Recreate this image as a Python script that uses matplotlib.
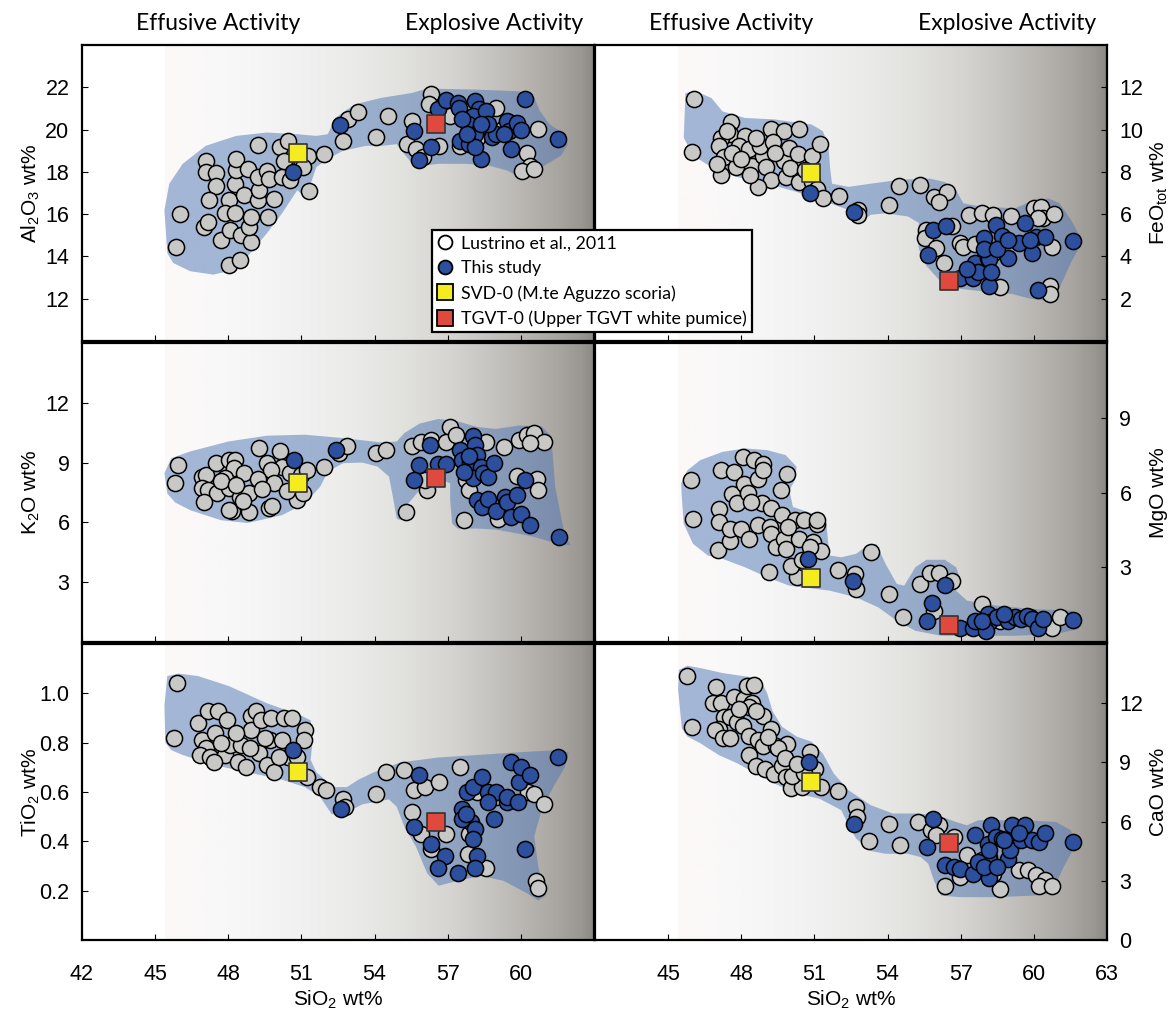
import numpy as np
import matplotlib.pyplot as plt
from matplotlib.colors import LinearSegmentedColormap
from matplotlib.lines import Line2D
from matplotlib.patches import Polygon

plt.rcParams['font.family'] = ['Liberation Sans', 'DejaVu Sans']
plt.rcParams['mathtext.fontset'] = 'custom'
plt.rcParams['mathtext.rm'] = 'Liberation Sans'
plt.rcParams['mathtext.it'] = 'Liberation Sans:italic'

# -------------------------------
# Whole-rock data: (SiO2, oxide) wt%
# -------------------------------
lus_al2o3 = [(45.86, 14.44), (46.02, 16.03), (47.07, 18.53), (47.07, 17.98), (47.51, 17.95), (47.51, 17.31),
             (47.19, 16.69), (48.01, 16.66), (46.99, 15.41), (47.15, 15.64), (47.70, 14.78), (48.07, 15.25),
             (48.04, 13.61), (48.48, 13.81), (48.51, 15.02), (48.95, 14.70), (48.87, 15.41), (48.95, 15.88),
             (47.85, 16.06), (48.29, 16.06), (48.26, 17.41), (48.32, 18.09), (48.32, 18.61), (48.79, 18.14),
             (48.64, 16.89), (49.20, 16.66), (49.26, 17.13), (49.20, 17.75), (49.20, 19.28), (49.58, 18.06),
             (49.66, 17.67), (49.62, 15.88), (49.86, 16.73), (50.13, 19.16), (50.44, 19.47), (50.20, 17.75),
             (50.55, 17.61), (50.28, 18.50), (50.99, 18.30), (51.27, 18.77), (51.07, 18.22), (51.30, 17.09),
             (51.93, 18.84), (52.71, 19.47), (52.90, 20.48), (53.34, 20.84), (54.04, 19.66), (54.56, 20.63),
             (55.53, 20.41), (55.34, 19.31), (55.69, 19.08), (56.00, 18.69), (56.32, 21.66), (56.24, 21.22),
             (56.63, 19.23), (57.10, 20.64), (60.24, 18.88), (60.39, 18.30), (60.05, 18.06), (60.55, 18.14),
             (60.71, 20.05), (59.26, 20.05), (59.61, 20.33), (57.80, 20.90), (58.40, 20.50), (59.00, 21.00),
             (58.20, 19.60), (57.50, 19.20)]
own_al2o3 = [(50.64, 17.98), (52.60, 20.20), (55.61, 19.91), (55.82, 18.58), (56.32, 19.16), (56.60, 20.98),
             (56.91, 21.42), (57.41, 21.27), (57.45, 21.03), (58.12, 21.34), (58.28, 20.95), (58.04, 20.64),
             (58.59, 20.88), (57.85, 20.25), (57.57, 20.48), (58.12, 19.78), (57.49, 19.47), (57.88, 19.31),
             (58.35, 18.61), (58.12, 19.16), (58.82, 19.63), (58.98, 19.78), (59.45, 20.41), (59.53, 19.94),
             (59.84, 20.33), (60.00, 19.98), (59.61, 19.08), (60.16, 21.45), (61.52, 19.55), (58.67, 20.25),
             (58.35, 20.25), (57.81, 19.78), (59.29, 19.78)]
env_al2o3 = [(45.50, 14.16), (45.38, 16.19), (45.58, 17.44), (46.13, 18.38), (47.07, 19.23), (48.32, 19.70),
             (49.58, 19.86), (50.83, 19.78), (51.61, 19.70), (52.08, 19.78), (52.40, 20.56), (53.18, 21.19),
             (54.28, 21.50), (55.53, 21.73), (56.16, 21.94), (58.20, 21.89), (59.92, 21.81), (60.55, 21.50),
             (60.78, 20.88), (61.18, 20.25), (61.80, 19.78), (61.93, 19.31), (61.65, 18.77), (60.86, 18.22),
             (60.71, 17.75), (60.08, 17.67), (59.45, 18.06), (58.67, 18.30), (57.73, 18.38), (56.63, 18.38),
             (56.00, 18.30), (55.61, 18.30), (55.22, 18.84), (54.91, 19.31), (54.28, 19.23), (53.65, 19.23),
             (52.71, 19.00), (52.08, 18.61), (51.61, 18.22), (51.38, 17.44), (51.46, 16.81), (51.14, 16.81),
             (50.83, 17.13), (50.20, 16.03), (49.58, 15.09), (48.79, 14.00), (48.01, 13.30), (47.38, 13.14),
             (46.44, 13.30), (45.74, 13.69)]

lus_feo = [(46.06, 11.46), (45.97, 8.92), (47.58, 10.37), (47.54, 9.78), (47.16, 9.62), (48.15, 9.70),
           (47.08, 9.23), (47.92, 9.23), (47.31, 8.69), (47.77, 8.22), (47.16, 7.83), (47.01, 8.38),
           (48.30, 9.08), (48.45, 8.30), (48.91, 8.77), (48.75, 9.23), (49.03, 8.22), (49.21, 10.01),
           (49.74, 9.93), (49.29, 9.39), (49.74, 8.53), (50.35, 10.01), (49.97, 9.15), (50.32, 8.84),
           (50.88, 8.77), (51.22, 9.31), (49.21, 7.63), (48.68, 7.29), (48.37, 7.83), (49.82, 7.76),
           (50.35, 7.52), (50.88, 7.52), (51.11, 7.21), (51.34, 6.74), (52.02, 6.87), (52.78, 6.20),
           (52.78, 5.95), (54.07, 6.43), (54.45, 7.33), (55.33, 7.37), (55.90, 6.82), (56.43, 7.05),
           (56.12, 6.59), (57.34, 5.97), (57.87, 6.04), (58.33, 5.97), (59.06, 5.89), (60.00, 6.28),
           (60.30, 6.35), (60.38, 5.81), (60.84, 6.01), (60.15, 5.81), (56.66, 5.42), (55.59, 5.27),
           (55.52, 4.88), (55.97, 4.41), (56.32, 3.71), (56.96, 4.64), (57.11, 4.46), (58.63, 2.54),
           (60.76, 4.46), (60.68, 2.62), (60.68, 2.23), (57.57, 4.57), (58.33, 4.18), (47.60, 8.90),
           (48.00, 8.60), (48.60, 9.60), (49.40, 8.90), (50.00, 8.20), (50.60, 8.10), (47.40, 9.95)]
own_feo = [(50.81, 7.01), (52.63, 6.12), (55.87, 5.27), (56.38, 5.45), (55.67, 4.07), (56.96, 2.96),
           (57.49, 2.96), (57.57, 3.71), (57.95, 4.88), (58.10, 3.94), (58.18, 2.62), (58.18, 3.87),
           (58.45, 5.50), (58.71, 4.95), (58.94, 3.94), (59.39, 4.64), (59.62, 5.58), (59.92, 4.18),
           (60.08, 4.92), (60.46, 4.92), (60.18, 2.39), (61.60, 4.72), (57.95, 4.33), (58.48, 4.33),
           (57.72, 3.24), (58.25, 3.24), (58.94, 4.80), (59.85, 4.80), (57.26, 3.40)]
env_feo = [(45.71, 11.72), (46.09, 11.83), (46.78, 11.49), (47.23, 10.86), (48.15, 10.55), (49.36, 10.48),
           (50.88, 10.24), (51.34, 9.93), (51.57, 9.31), (51.64, 8.22), (51.72, 7.44), (52.40, 7.29),
           (53.31, 7.44), (54.53, 7.63), (55.74, 7.68), (56.35, 7.52), (56.81, 7.13), (57.11, 6.51),
           (57.87, 6.35), (59.24, 6.28), (60.00, 6.67), (60.61, 6.74), (61.06, 6.51), (61.52, 5.73),
           (61.90, 4.95), (61.82, 4.33), (61.52, 3.71), (61.22, 2.93), (60.91, 2.16), (60.46, 1.92),
           (59.85, 2.00), (59.09, 2.23), (58.18, 2.31), (56.96, 2.47), (56.20, 2.78), (55.59, 3.56),
           (55.29, 4.33), (55.21, 4.95), (55.29, 5.58), (54.83, 5.89), (53.92, 6.04), (53.31, 5.97),
           (53.01, 5.73), (52.71, 5.89), (52.40, 6.20), (51.64, 6.51), (50.27, 7.05), (49.06, 7.44),
           (47.84, 7.75), (46.78, 8.22), (46.02, 8.77), (45.64, 9.62)]

lus_k2o = [(45.94, 8.89), (45.82, 7.96), (46.91, 8.30), (47.07, 8.38), (47.51, 9.00), (48.01, 9.14),
           (48.29, 9.14), (48.24, 8.72), (47.85, 8.21), (48.64, 8.46), (49.26, 9.73), (49.58, 8.97),
           (50.13, 9.56), (50.20, 8.80), (49.76, 8.63), (49.89, 7.96), (50.52, 8.46), (50.99, 8.38),
           (51.22, 8.63), (51.93, 8.80), (46.91, 7.71), (47.15, 7.62), (47.54, 7.45), (48.01, 7.71),
           (48.48, 7.29), (48.87, 7.45), (48.87, 6.53), (48.17, 6.58), (48.01, 6.61), (46.99, 7.03),
           (49.66, 6.70), (49.81, 6.81), (50.83, 7.12), (51.07, 7.45), (52.55, 9.47), (52.87, 9.81),
           (54.04, 9.47), (54.47, 9.61), (55.53, 9.85), (55.92, 10.01), (56.32, 10.15), (57.10, 10.79),
           (56.94, 10.01), (57.34, 10.40), (58.59, 10.01), (59.29, 9.76), (59.92, 10.11), (60.27, 10.40),
           (60.55, 10.48), (60.94, 10.05), (60.39, 9.98), (59.84, 8.33), (60.67, 8.16), (60.71, 7.62),
           (57.65, 6.11), (59.06, 6.19), (55.30, 6.53), (56.16, 7.62), (56.08, 8.13), (57.73, 8.13),
           (57.88, 7.62), (58.35, 8.46), (47.70, 8.10), (48.30, 7.90), (49.20, 8.20), (49.40, 7.70),
           (48.60, 7.05), (50.40, 7.60)]
own_k2o = [(50.71, 9.14), (52.43, 9.61), (55.82, 8.89), (56.29, 9.86), (55.61, 8.13), (56.60, 8.94),
           (56.91, 8.94), (57.49, 9.64), (57.57, 9.14), (58.04, 10.35), (58.12, 9.90), (58.20, 9.39),
           (57.92, 9.05), (58.35, 8.80), (58.04, 8.21), (58.43, 8.46), (58.67, 8.30), (58.90, 8.97),
           (58.20, 7.12), (58.39, 6.78), (58.67, 7.17), (58.98, 6.58), (59.37, 7.29), (59.45, 7.03),
           (59.84, 7.37), (59.61, 6.28), (60.00, 6.44), (60.39, 5.86), (60.16, 8.13), (61.57, 5.27),
           (57.65, 8.55), (57.88, 9.31)]
env_k2o = [(45.50, 7.45), (45.38, 8.46), (45.66, 9.22), (46.44, 9.56), (48.01, 10.06), (49.58, 10.35),
           (51.14, 10.40), (52.71, 10.23), (54.28, 10.01), (54.91, 10.06), (55.22, 10.48), (55.85, 10.96),
           (56.63, 11.19), (57.41, 11.07), (58.20, 10.79), (58.98, 10.69), (59.92, 10.86), (60.86, 10.82),
           (61.25, 10.32), (61.30, 9.47), (61.41, 7.79), (61.65, 6.28), (61.80, 5.43), (62.04, 4.85),
           (61.49, 4.93), (60.55, 5.27), (59.92, 5.43), (58.98, 5.64), (58.20, 5.69), (57.41, 5.69),
           (57.18, 5.94), (57.10, 7.12), (57.10, 7.96), (56.79, 8.13), (55.85, 7.62), (55.38, 6.95),
           (55.06, 6.11), (54.91, 6.19), (54.75, 7.29), (54.59, 8.30), (54.12, 8.80), (53.50, 9.00),
           (52.71, 8.97), (52.08, 8.55), (51.77, 7.79), (51.14, 6.95), (50.20, 6.36), (48.79, 5.97),
           (47.70, 6.11), (46.44, 6.61), (45.82, 7.00)]

lus_mgo = [(45.94, 6.49), (46.02, 4.95), (47.08, 5.35), (47.08, 4.81), (47.05, 3.71), (47.16, 6.89),
           (47.54, 4.05), (47.54, 4.54), (47.61, 5.95), (47.69, 6.83), (47.84, 5.58), (47.99, 4.54),
           (48.07, 7.43), (48.12, 6.36), (48.27, 5.98), (48.33, 4.14), (48.53, 7.32), (48.68, 6.56),
           (48.91, 7.16), (48.68, 4.68), (48.83, 5.59), (49.16, 4.61), (49.21, 5.39), (49.21, 4.32),
           (49.13, 2.80), (49.44, 3.81), (49.67, 5.11), (49.64, 6.09), (49.89, 6.76), (49.74, 4.14),
           (49.82, 3.74), (50.20, 4.88), (50.27, 2.60), (50.05, 3.07), (50.35, 4.14), (50.58, 4.88),
           (50.93, 4.01), (51.11, 4.74), (51.26, 3.67), (51.11, 4.88), (51.95, 2.87), (52.67, 2.73),
           (52.71, 2.13), (53.34, 3.60), (54.04, 1.93), (54.65, 1.01), (55.33, 2.33), (55.74, 2.76),
           (56.12, 2.76), (56.66, 2.46), (55.90, 1.26), (57.87, 1.52), (58.63, 0.85), (59.85, 0.99),
           (60.76, 0.58), (61.06, 0.99), (57.57, 0.79), (48.90, 6.90), (48.40, 5.60), (49.90, 4.60),
           (50.50, 3.30), (50.80, 3.80)]
own_mgo = [(50.73, 3.34), (52.60, 2.44), (55.82, 1.55), (56.35, 2.29), (55.62, 0.85), (56.96, 0.56),
           (57.49, 0.58), (57.57, 0.85), (58.10, 1.12), (58.18, 0.79), (58.48, 0.99), (58.94, 0.85),
           (59.24, 0.99), (59.47, 0.92), (59.70, 1.04), (59.92, 0.92), (60.15, 0.56), (60.38, 0.92),
           (61.60, 0.88), (58.02, 0.45), (57.87, 0.85), (58.78, 1.12)]
env_mgo = [(45.56, 5.82), (45.53, 6.36), (45.79, 6.89), (46.32, 7.30), (47.23, 7.63), (48.15, 7.77),
           (49.06, 7.70), (49.82, 7.50), (50.27, 7.03), (50.20, 6.49), (49.97, 6.09), (50.12, 5.42),
           (50.88, 5.17), (51.49, 4.74), (51.57, 3.94), (51.64, 3.47), (52.10, 3.40), (52.71, 3.54),
           (53.16, 3.87), (53.54, 3.94), (53.92, 3.13), (54.38, 2.33), (54.68, 2.26), (55.14, 3.00),
           (55.59, 3.30), (56.35, 3.30), (56.81, 3.00), (56.96, 2.60), (56.81, 2.06), (57.26, 1.66),
           (58.48, 1.46), (60.00, 1.32), (61.52, 1.26), (61.98, 0.92), (61.82, 0.52), (60.91, 0.32),
           (59.24, 0.25), (57.72, 0.25), (56.20, 0.25), (55.14, 0.45), (54.38, 0.85), (53.62, 1.39),
           (52.71, 1.79), (51.64, 2.06), (50.58, 2.19), (49.97, 2.26), (49.06, 2.60), (48.15, 3.00),
           (47.23, 3.34), (46.63, 3.47), (46.02, 3.94), (45.64, 4.74)]

lus_tio2 = [(45.89, 1.04), (45.78, 0.82), (46.76, 0.88), (47.15, 0.93), (47.57, 0.93), (47.93, 0.89),
            (46.91, 0.81), (47.07, 0.78), (46.83, 0.75), (47.23, 0.74), (47.46, 0.84), (47.85, 0.75),
            (48.09, 0.79), (48.51, 0.79), (48.40, 0.72), (48.71, 0.70), (48.95, 0.91), (49.14, 0.93),
            (48.95, 0.85), (49.34, 0.89), (49.26, 0.76), (49.58, 0.71), (49.76, 0.90), (49.73, 0.81),
            (49.86, 0.68), (50.28, 0.90), (50.60, 0.90), (50.20, 0.81), (50.44, 0.74), (50.80, 0.74),
            (51.14, 0.85), (51.11, 0.81), (51.22, 0.66), (51.77, 0.62), (52.00, 0.61), (52.71, 0.57),
            (52.79, 0.54), (54.04, 0.59), (54.47, 0.68), (55.19, 0.69), (55.61, 0.61), (56.08, 0.62),
            (56.63, 0.64), (55.53, 0.52), (55.92, 0.43), (56.32, 0.37), (56.94, 0.43), (57.49, 0.70),
            (57.85, 0.35), (58.59, 0.29), (60.31, 0.60), (60.55, 0.59), (60.94, 0.55), (60.63, 0.24),
            (60.71, 0.21), (58.20, 0.60), (57.88, 0.43), (58.98, 0.58), (47.70, 0.80), (48.30, 0.84),
            (48.90, 0.78), (49.50, 0.82), (50.10, 0.74), (47.40, 0.72)]
own_tio2 = [(50.67, 0.77), (52.63, 0.53), (55.82, 0.67), (55.61, 0.46), (56.32, 0.39), (56.87, 0.34),
            (56.60, 0.29), (57.41, 0.27), (57.57, 0.53), (57.81, 0.60), (58.04, 0.62), (57.96, 0.48),
            (58.12, 0.45), (58.39, 0.66), (58.20, 0.34), (58.12, 0.29), (58.67, 0.60), (58.90, 0.49),
            (58.98, 0.60), (58.67, 0.56), (59.45, 0.56), (59.45, 0.58), (59.61, 0.72), (59.92, 0.64),
            (60.00, 0.70), (60.39, 0.67), (59.89, 0.56), (60.16, 0.37), (61.52, 0.74), (57.57, 0.49),
            (58.04, 0.41), (57.73, 0.51)]
env_tio2 = [(45.42, 0.80), (45.38, 0.95), (45.50, 1.07), (45.97, 1.08), (46.76, 1.07), (48.01, 1.03),
            (49.58, 0.96), (50.99, 0.91), (51.38, 0.89), (51.46, 0.81), (51.38, 0.73), (51.61, 0.68),
            (52.08, 0.64), (52.40, 0.62), (52.87, 0.62), (53.34, 0.65), (53.97, 0.68), (55.06, 0.72),
            (56.63, 0.74), (58.20, 0.75), (59.76, 0.76), (61.49, 0.77), (61.96, 0.76), (61.80, 0.70),
            (61.33, 0.62), (60.86, 0.53), (60.55, 0.42), (60.71, 0.30), (61.02, 0.18), (60.71, 0.16),
            (60.24, 0.19), (59.29, 0.24), (58.35, 0.26), (57.41, 0.24), (56.63, 0.22), (56.16, 0.27),
            (55.69, 0.38), (55.22, 0.46), (54.91, 0.54), (54.59, 0.57), (53.50, 0.55), (52.71, 0.51),
            (52.24, 0.51), (51.77, 0.58), (51.14, 0.62), (50.20, 0.65), (48.79, 0.68), (47.38, 0.71),
            (46.13, 0.75), (45.66, 0.77)]

lus_cao = [(45.79, 13.39), (45.99, 10.78), (46.98, 12.80), (46.85, 12.03), (47.16, 12.00), (47.69, 12.31),
           (48.12, 12.20), (48.22, 12.85), (48.53, 12.90), (48.45, 12.00), (47.31, 11.29), (47.08, 10.68),
           (46.93, 10.64), (47.54, 11.32), (47.84, 11.07), (48.07, 10.85), (48.30, 11.83), (48.91, 11.36),
           (49.21, 10.68), (47.23, 10.25), (47.54, 10.22), (48.30, 10.34), (48.68, 10.14), (48.91, 9.83),
           (48.30, 9.37), (48.60, 8.81), (48.98, 8.69), (49.36, 8.41), (49.67, 8.81), (49.44, 9.83),
           (49.89, 9.93), (49.51, 9.71), (49.82, 8.27), (50.05, 7.68), (50.50, 7.76), (50.81, 9.54),
           (51.03, 8.69), (51.26, 7.76), (50.09, 8.31), (50.58, 8.44), (51.98, 7.56), (52.71, 6.75),
           (52.74, 6.24), (53.24, 5.02), (54.04, 5.90), (54.50, 4.80), (55.26, 5.98), (55.78, 5.56),
           (56.12, 5.81), (55.97, 5.31), (56.35, 2.76), (56.73, 5.22), (56.96, 3.19), (57.26, 4.29),
           (59.39, 3.53), (59.77, 3.53), (60.08, 3.27), (60.46, 3.02), (60.23, 2.76), (60.73, 2.73),
           (58.63, 2.59), (58.33, 3.36), (57.87, 4.03), (47.90, 11.70), (48.60, 11.60), (49.10, 10.30),
           (49.80, 9.20), (50.30, 8.90)]
own_cao = [(50.76, 9.03), (52.63, 5.90), (55.87, 6.12), (55.62, 4.71), (56.35, 3.78), (56.73, 3.69),
           (56.96, 3.61), (57.57, 5.34), (57.49, 3.36), (58.10, 4.85), (58.18, 4.20), (58.18, 3.15),
           (58.25, 5.81), (58.45, 5.22), (58.18, 4.03), (58.94, 4.12), (59.01, 4.54), (58.71, 5.10),
           (59.09, 5.81), (59.47, 5.05), (59.62, 5.81), (59.92, 5.05), (60.23, 4.97), (60.46, 5.42),
           (61.60, 4.97), (57.72, 3.95), (57.95, 3.69), (58.18, 4.54), (58.48, 3.69), (58.78, 5.05),
           (59.39, 5.42)]
env_cao = [(45.56, 10.73), (45.41, 12.68), (45.44, 13.69), (45.79, 13.90), (46.32, 13.78), (47.23, 13.53),
           (48.15, 13.36), (48.75, 13.27), (49.06, 12.51), (49.29, 11.58), (49.67, 10.81), (50.27, 10.31),
           (50.88, 10.05), (51.34, 9.46), (51.79, 8.44), (52.40, 7.59), (53.31, 6.83), (54.22, 6.41),
           (55.14, 6.41), (56.05, 6.32), (56.81, 5.98), (57.26, 5.81), (57.72, 6.07), (58.48, 6.07),
           (59.70, 6.07), (60.91, 5.98), (61.52, 5.56), (61.67, 4.88), (61.52, 4.37), (61.22, 3.69),
           (60.91, 2.85), (60.61, 2.34), (60.00, 2.25), (58.48, 2.17), (56.96, 2.17), (56.20, 2.25),
           (55.90, 3.02), (55.67, 3.86), (55.36, 4.20), (54.83, 4.37), (53.92, 4.37), (53.31, 4.51),
           (52.71, 5.14), (52.40, 5.81), (52.10, 6.58), (51.19, 7.17), (50.27, 7.42), (49.36, 7.93),
           (48.45, 8.53), (47.84, 8.95), (47.08, 9.37), (46.32, 9.97), (45.79, 10.31)]

# reference samples, oxides in order Al2O3, FeOtot, K2O, MgO, TiO2, CaO
svd0_sio2 = 50.85
svd0_vals = [18.9, 7.96, 7.96, 2.57, 0.68, 8.03]
tgvt0_sio2 = 56.5
tgvt0_vals = [20.25, 2.86, 8.25, 0.69, 0.48, 4.92]

ylabels = ['Al$_2$O$_3$ wt%', 'FeO$_{\\mathrm{tot}}$ wt%', 'K$_2$O wt%', 'MgO wt%', 'TiO$_2$ wt%', 'CaO wt%']
ylims = [(10, 24), (0, 14), (0, 15), (0, 12), (0, 1.2), (0, 15)]
yticks = [[12, 14, 16, 18, 20, 22], [2, 4, 6, 8, 10, 12], [3, 6, 9, 12], [3, 6, 9],
          [0.2, 0.4, 0.6, 0.8, 1.0], [0, 3, 6, 9, 12]]
xticks = [42, 45, 48, 51, 54, 57, 60, 63]

# background shading: SiO2 stops and grey levels
shade_x = [45.4, 48, 51, 53, 55, 57, 58.5, 60, 61.5, 62.5, 63]
shade_c = ['#fdf8f8', '#f8f8f8', '#f1f1f1', '#ebebea', '#e2e2df', '#d6d5d1',
           '#c9c7c3', '#bab7b3', '#a9a5a1', '#9a9692', '#8b8783']

lus_sets = [lus_al2o3, lus_feo, lus_k2o, lus_mgo, lus_tio2, lus_cao]
own_sets = [own_al2o3, own_feo, own_k2o, own_mgo, own_tio2, own_cao]
env_sets = [env_al2o3, env_feo, env_k2o, env_mgo, env_tio2, env_cao]

shade_pos = [(v - shade_x[0]) / (shade_x[-1] - shade_x[0]) for v in shade_x]
shade_cmap = LinearSegmentedColormap.from_list('shade', list(zip(shade_pos, shade_c)))

HUMANIST = ['Lato', 'DejaVu Sans']

fig = plt.figure(figsize=(11.69, 10.11), dpi=100)
W, H = 1169.0, 1011.0
col_x = [82, 595]
col_w = 512
row_y = [(45, 341), (343, 642), (644, 940)]

for i in range(6):
    row, col = divmod(i, 2)
    top, bot = row_y[row]
    ax = fig.add_axes([col_x[col] / W, 1 - bot / H, col_w / W, (bot - top) / H])
    y0, y1 = ylims[i]
    ax.set_xlim(42, 63)
    ax.set_ylim(y0, y1)

    ax.imshow(np.linspace(0, 1, 512)[None, :], cmap=shade_cmap, aspect='auto',
              extent=[shade_x[0], shade_x[-1], y0, y1], zorder=0, interpolation='bilinear')
    ax.add_patch(Polygon(env_sets[i], closed=True, facecolor='#4d75b5', alpha=0.5,
                         edgecolor='none', zorder=1))

    lx, ly = zip(*lus_sets[i])
    ax.scatter(lx, ly, s=135, c='#c8c8c6', edgecolors='black', linewidths=1.1, zorder=2)
    ox, oy = zip(*own_sets[i])
    ax.scatter(ox, oy, s=135, c='#2c4f9e', edgecolors='black', linewidths=1.1, zorder=3)
    ax.scatter([svd0_sio2], [svd0_vals[i]], s=165, marker='s', c='#f4ec1e',
               edgecolors='#333333', linewidths=1.2, zorder=4)
    ax.scatter([tgvt0_sio2], [tgvt0_vals[i]], s=165, marker='s', c='#e0493d',
               edgecolors='#333333', linewidths=1.2, zorder=4)

    for sp in ax.spines.values():
        sp.set_linewidth(1.6)

    ax.set_xticks(xticks)
    ax.set_yticks(yticks[i])
    ax.tick_params(direction='in', length=4.5, width=0.8, labelsize=15.5, pad=9)
    if row == 2:
        labs = [str(v) for v in xticks]
        if col == 0:
            labs[-1] = ''
        else:
            labs[0] = ''
        ax.set_xticklabels(labs)
        ax.tick_params(axis='x', pad=17)
        ax.set_xlabel('SiO$_2$ wt%', fontsize=15)
        ax.xaxis.set_label_coords(0.5, -0.165)
    else:
        ax.tick_params(axis='x', labelbottom=False)

    if col == 0:
        ax.set_ylabel(ylabels[i], fontsize=15)
        ax.yaxis.set_label_coords(-0.078, 0.5)
    else:
        ax.yaxis.tick_right()
        ax.yaxis.set_label_position('right')
        ax.set_ylabel(ylabels[i], fontsize=15)
        ax.yaxis.set_label_coords(1.082, 0.5)

    if row == 0:
        for tx, txt in [(47.6, 'Effusive Activity'), (58.9, 'Explosive Activity')]:
            ax.text(tx, 1.072, txt, transform=ax.get_xaxis_transform(), ha='center', va='center',
                    fontsize=16.5, family=HUMANIST)

handles = [
    Line2D([], [], ls='', marker='o', ms=10, mfc='white', mec='black', mew=1.3),
    Line2D([], [], ls='', marker='o', ms=10, mfc='#2c4f9e', mec='black', mew=1.3),
    Line2D([], [], ls='', marker='s', ms=12, mfc='#f4ec1e', mec='black', mew=1.3),
    Line2D([], [], ls='', marker='s', ms=12, mfc='#e0493d', mec='black', mew=1.3),
]
names = ['Lustrino et al., 2011', 'This study', 'SVD-0 (M.te Aguzzo scoria)',
         'TGVT-0 (Upper TGVT white pumice)']
leg = fig.legend(handles, names, loc='upper left', bbox_to_anchor=(432 / W, 1 - 230 / H),
                 borderaxespad=0, frameon=True, fancybox=False, framealpha=1, edgecolor='black',
                 handlelength=0.9, handletextpad=0.45, labelspacing=0.5, borderpad=0.3,
                 prop={'family': HUMANIST, 'size': 12.8})
leg.get_frame().set_linewidth(1.6)

fig.savefig('out.png', dpi=100)
